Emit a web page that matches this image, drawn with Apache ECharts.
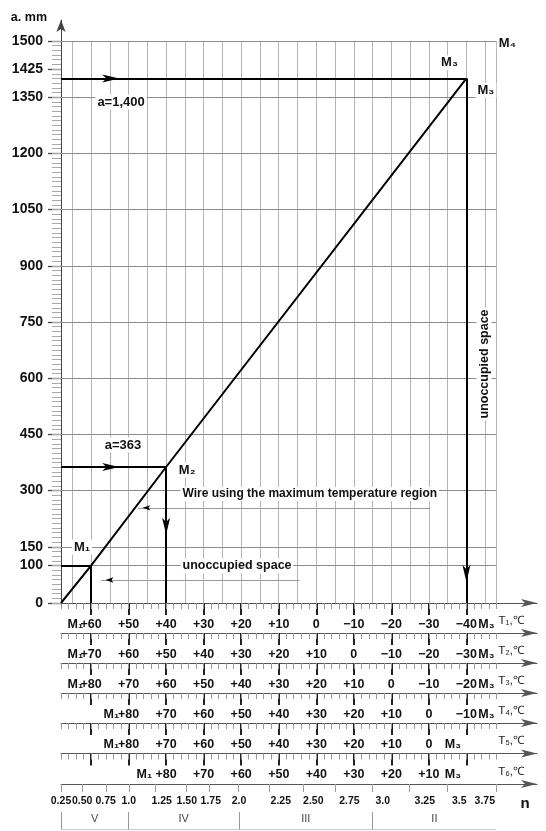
<!DOCTYPE html>
<html><head><meta charset="utf-8">
<script src="https://cdn.jsdelivr.net/npm/echarts@6/dist/echarts.min.js"></script>
<style>html,body{margin:0;padding:0;background:#fff}#c{width:546px;height:831px}</style>
</head><body><div id="c"></div>
<script>
// ---------------- data ----------------
// y axis (a, mm)
const yTickLabels = [0, 100, 150, 300, 450, 600, 750, 900, 1050, 1200, 1350, 1425, 1500];
const hGridA = [100, 150, 300, 450, 600, 750, 900, 1050, 1200, 1350, 1500];
// x position is expressed on the T1 scale (°C)
const vGridT1 = [65, 60, 55, 50, 45, 40, 35, 30, 25, 20, 15, 10, 5, 0, -5, -10, -15, -20, -25, -30, -35, -40, -45, -48];
const majorT1 = [60, 50, 40, 30, 20, 10, 0, -10, -20, -30, -40];
// nomogram line (T1, a)
const lineT1 = [68, 60, 40, -40];
const lineA  = [0, 100, 363, 1400];
const M1 = [60, 100], M2 = [40, 363], M3 = [-40, 1400];
// temperature scales
const t1Labels = ['+60', '+50', '+40', '+30', '+20', '+10', '0', '−10', '−20', '−30', '−40'];
const t2Labels = ['+70', '+60', '+50', '+40', '+30', '+20', '+10', '0', '−10', '−20', '−30'];
const t3Labels = ['+80', '+70', '+60', '+50', '+40', '+30', '+20', '+10', '0', '−10', '−20'];
const t4Labels = ['+80', '+70', '+60', '+50', '+40', '+30', '+20', '+10', '0', '−10'];
const t5Labels = ['+80', '+70', '+60', '+50', '+40', '+30', '+20', '+10', '0'];
const t6Labels = ['+80', '+70', '+60', '+50', '+40', '+30', '+20', '+10'];
const tNames = ['T₁,℃', 'T₂,℃', 'T₃,℃', 'T₄,℃', 'T₅,℃', 'T₆,℃'];
// n scale (positions on the T1 scale)
const nLabels = ['0.25', '0.50', '0.75', '1.0', '1.25', '1.50', '1.75', '2.0', '2.25', '2.50', '2.75', '3.0', '3.25', '3.5', '3.75'];
const nLabelAt = [68, 62.35, 56.1, 49.94, 41.2, 34.5, 28.1, 20.6, 9.45, 0.8, -8.85, -17.7, -28.9, -38.1, -44.9];
const nTickAt = [68, 62.27, 56.01, 49.94, 42.96, 34.7, 28.58, 20.72, 12.65, 3.54, -5.12, -14.98, -24.7, -34.82, -47.88];
const regions = ['V', 'IV', 'III', 'II'];
const regionBounds = [68, 50.07, 20.6, -15.03, -47.9];

// ---------------- layout / style ----------------
const FONT = "'Liberation Sans',Arial,sans-serif";
const X_MIN = -58.8, X_MAX = 68;
const rowOffsets = [0, 30, 60, 90, 120, 150.5, 181];

const minorT1 = [];
for (let v = 68; v >= -48; v -= 2) minorT1.push(v);
const minorA = [];
for (let v = 0; v <= 1500; v += 12.5) minorA.push(v);

function lookup(map, v) {
  for (const [k, t] of map) if (Math.abs(k - v) < 1e-6) return t;
  return '';
}
function baseX(offset, grid) {
  return { type: 'value', gridIndex: grid || 0, position: 'bottom', offset: offset,
    min: X_MIN, max: X_MAX, inverse: true, splitLine: { show: false }, axisPointer: { show: false } };
}
const labelFont = { fontFamily: FONT, fontWeight: 'bold', fontSize: 12.5, color: '#111' };

const rows = [
  { labels: t1Labels, at: majorT1,               m1: 64.2, m3: -45.3 },
  { labels: t2Labels, at: majorT1,               m1: 64.2, m3: -45.3 },
  { labels: t3Labels, at: majorT1,               m1: 64.2, m3: -45.3 },
  { labels: t4Labels, at: majorT1.slice(1),      m1: 54.6, m3: -45.3 },
  { labels: t5Labels, at: majorT1.slice(1, 10),  m1: 54.6, m3: -36.4 },
  { labels: t6Labels, at: majorT1.slice(2, 10),  m1: 45.8, m3: -36.4 }
];

const xAxes = [];
rows.forEach((r, i) => {
  const off = rowOffsets[i];
  const lm = new Map();
  r.at.forEach((p, j) => lm.set(p, r.labels[j]));
  lm.set(r.m1, 'M₁');
  lm.set(r.m3, 'M₃');
  xAxes.push(Object.assign(baseX(off), {
    axisLine: { show: true, onZero: false, symbol: ['none', 'arrow'], symbolSize: [6, 16], lineStyle: { color: '#555', width: 1 } },
    axisTick: { show: true, customValues: majorT1, length: 12, lineStyle: { color: '#222', width: 2 } },
    axisLabel: Object.assign({ show: true, customValues: Array.from(lm.keys()), margin: 15,
      formatter: v => lookup(lm, v) }, labelFont)
  }));
  xAxes.push(Object.assign(baseX(off), {
    axisLine: { show: false, onZero: false },
    axisTick: { show: true, customValues: minorT1, length: 6, lineStyle: { color: '#999', width: 1 } },
    axisLabel: { show: true, customValues: [-51.9], margin: 12, formatter: () => tNames[i],
      fontFamily: FONT, fontSize: 11.5, color: '#222' }
  }));
});
// n scale
const nm = new Map();
nLabelAt.forEach((p, j) => nm.set(p, nLabels[j]));
nm.set(-55.6, 'n');
xAxes.push(Object.assign(baseX(rowOffsets[6]), {
  axisLine: { show: true, onZero: false, symbol: ['none', 'arrow'], symbolSize: [6, 16], lineStyle: { color: '#555', width: 1 } },
  axisTick: { show: true, customValues: nTickAt, length: 8, lineStyle: { color: '#999', width: 1 } },
  axisLabel: { show: true, customValues: Array.from(nm.keys()), margin: 12,
    formatter: v => lookup(nm, v),
    rich: { n: { fontSize: 15, fontWeight: 'bold', fontFamily: FONT, color: '#111' } },
    fontFamily: FONT, fontWeight: 'bold', fontSize: 10.5, color: '#111' }
}));
// region grid axis
const REG_X = xAxes.length;
xAxes.push(Object.assign(baseX(0, 1), { show: false }));

const yAxes = [
  { type: 'value', gridIndex: 0, min: 0, max: 1556, position: 'left',
    name: 'a. mm', nameLocation: 'end', nameGap: 2,
    nameTextStyle: { fontFamily: FONT, fontWeight: 'bold', fontSize: 12.5, color: '#111', align: 'right', verticalAlign: 'middle', padding: [0, 14, 0, 0] },
    axisLine: { show: true, onZero: false, symbol: ['none', 'arrow'], symbolSize: [7, 12], lineStyle: { color: '#444', width: 1 } },
    axisTick: { show: true, customValues: yTickLabels, length: 13, lineStyle: { color: '#444', width: 1.3 } },
    axisLabel: { show: true, customValues: yTickLabels, margin: 18, formatter: v => String(v),
      fontFamily: FONT, fontWeight: 'bold', fontSize: 14, color: '#111' },
    splitLine: { show: false } },
  { type: 'value', gridIndex: 0, min: 0, max: 1556, position: 'left',
    axisLine: { show: false, onZero: false },
    axisTick: { show: true, customValues: minorA, length: 9, lineStyle: { color: '#aaa', width: 1 } },
    axisLabel: { show: false }, splitLine: { show: false } },
  { type: 'value', gridIndex: 1, min: 0, max: 1, show: false }
];

const noteLabel = { show: true, fontFamily: FONT, fontWeight: 'bold', fontSize: 12, color: '#111',
  backgroundColor: '#fff', padding: [1, 2] };
function note(t, a, text, extra) {
  return { value: [t, a], label: Object.assign({ formatter: text }, extra || {}) };
}

const option = {
  animation: false,
  backgroundColor: '#fff',
  textStyle: { fontFamily: FONT },
  grid: [
    { left: 61, right: 9, top: 20, bottom: 228, containLabel: false, outerBoundsMode: 'none' },
    { left: 61, right: 9, top: 812, height: 17, containLabel: false, outerBoundsMode: 'none' }
  ],
  xAxis: xAxes,
  yAxis: yAxes,
  series: [
    // vertical grid
    { type: 'lines', coordinateSystem: 'cartesian2d', xAxisIndex: 0, yAxisIndex: 0, z: 1, silent: true,
      lineStyle: { color: '#b4b4b4', width: 1, opacity: 1 },
      data: vGridT1.map(t => ({ coords: [[t, 0], [t, 1500]] })) },
    // horizontal grid
    { type: 'lines', coordinateSystem: 'cartesian2d', xAxisIndex: 0, yAxisIndex: 0, z: 1, silent: true,
      lineStyle: { color: '#8c8c8c', width: 1, opacity: 1 },
      data: hGridA.map(a => ({ coords: [[68, a], [-48, a]] })) },
    // leader lines
    { type: 'lines', coordinateSystem: 'cartesian2d', xAxisIndex: 0, yAxisIndex: 0, z: 1, silent: true,
      lineStyle: { color: '#999', width: 1, opacity: 1 },
      data: [{ coords: [[47.5, 254], [-30.3, 254]] }, { coords: [[57.35, 61.4], [4.47, 61.4]] }] },
    // annotations
    { type: 'scatter', xAxisIndex: 0, yAxisIndex: 0, z: 2, symbolSize: 1, silent: true, clip: false,
      itemStyle: { color: 'rgba(0,0,0,0)', opacity: 1 },
      label: Object.assign({ position: 'inside' }, noteLabel),
      data: [
        note(52.0, 1337, 'a=1,400', { fontSize: 13 }),
        note(51.5, 421.7, 'a=363', { fontSize: 13 }),
        note(34.4, 355, 'M₂', { fontSize: 13 }),
        note(36.3, 291, 'Wire using the maximum temperature region', { position: 'right', distance: 0 }),
        note(62.4, 149.5, 'M₁', { fontSize: 13 }),
        note(36.3, 99, 'unoccupied space', { position: 'right', distance: 0, fontSize: 12.5 }),
        note(-44.7, 638, 'unoccupied space', { rotate: 90, fontSize: 12.5 }),
        note(-35.5, 1442, 'M₃', { fontSize: 13 }),
        note(-45.2, 1368, 'M₃', { fontSize: 13 }),
        note(-50.9, 1493, 'M₄', { fontSize: 13 })
      ] },
    // nomogram line
    { type: 'line', xAxisIndex: 0, yAxisIndex: 0, z: 3, symbol: 'none', silent: true,
      lineStyle: { color: '#000', width: 2 },
      data: lineT1.map((t, i) => [t, lineA[i]]) },
    // construction lines through M1, M2, M3
    { type: 'lines', coordinateSystem: 'cartesian2d', xAxisIndex: 0, yAxisIndex: 0, z: 3, silent: true,
      lineStyle: { color: '#000', width: 2, opacity: 1 },
      data: [
        { coords: [[68, M3[1]], M3] }, { coords: [M3, [M3[0], 0]] },
        { coords: [[68, M2[1]], M2] }, { coords: [M2, [M2[0], 0]] },
        { coords: [[68, M1[1]], M1] }, { coords: [M1, [M1[0], 0]] }
      ] },
    // arrow heads
    { type: 'scatter', xAxisIndex: 0, yAxisIndex: 0, z: 4, silent: true, symbol: 'arrow',
      itemStyle: { color: '#000', opacity: 1 },
      data: [
        { value: [52.5, M3[1]], symbolRotate: -90, symbolSize: [6, 17] },
        { value: [52.5, M2[1]], symbolRotate: -90, symbolSize: [6, 17] },
        { value: [M3[0], 56], symbolRotate: 180, symbolSize: [6, 17] },
        { value: [M2[0], 182], symbolRotate: 180, symbolSize: [6, 17] },
        { value: [46.3, 254], symbolRotate: 90, symbolSize: [4, 8] },
        { value: [56.15, 61.4], symbolRotate: 90, symbolSize: [4, 8] }
      ] },
    // region row
    { type: 'lines', coordinateSystem: 'cartesian2d', xAxisIndex: REG_X, yAxisIndex: 2, silent: true,
      lineStyle: { color: '#999', width: 1, opacity: 1 },
      data: [{ coords: [[regionBounds[0], 0], [regionBounds[regionBounds.length - 1], 0]] }]
        .concat(regionBounds.slice(0, -1).map(b => ({ coords: [[b, -0.05], [b, 1]] }))) },
    { type: 'scatter', xAxisIndex: REG_X, yAxisIndex: 2, symbolSize: 1, silent: true,
      itemStyle: { color: 'rgba(0,0,0,0)', opacity: 1 },
      label: { show: true, position: 'inside', fontFamily: FONT, fontSize: 11, color: '#444', formatter: p => p.name },
      data: regions.map((r, i) => ({ name: r, value: [(regionBounds[i] + regionBounds[i + 1]) / 2, 0.59] })) }
  ]
};

// make the "n" axis name larger via rich text
xAxes[xAxes.length - 2].axisLabel.formatter = v => { const t = lookup(nm, v); return t === 'n' ? '{n|n}' : t; };

const chart = echarts.init(document.getElementById('c'), null, { renderer: 'canvas' });
chart.setOption(option);
</script>
</body></html>
